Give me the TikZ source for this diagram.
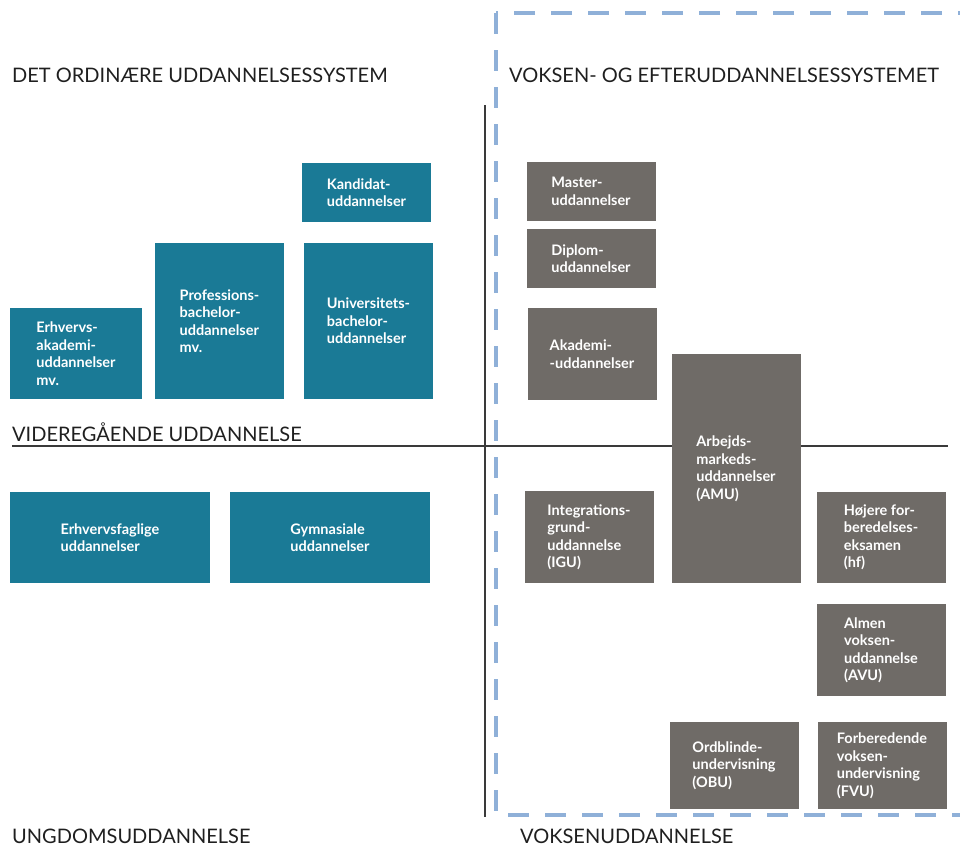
\documentclass[tikz,border=0pt]{standalone}
\usepackage{fontspec}
\setmainfont{Lato}
\usepackage{tikz}
\usetikzlibrary{positioning}
\definecolor{tealbg}{HTML}{1A7A96}
\definecolor{greybg}{HTML}{6F6B67}
\definecolor{dashblue}{HTML}{8FB0D8}
\definecolor{rulegrey}{HTML}{3A3A3A}
\tikzset{
  box/.style={minimum width=129pt, inner sep=0pt, text=white, align=left,
    font=\fontsize{14.5}{17.5}\selectfont\bfseries},
  tealbox/.style={box, fill=tealbg},
  greybox/.style={box, fill=greybg},
  heading/.style={anchor=west, inner sep=0pt, text=black!88,
    font=\fontsize{20}{23}\selectfont},
  rule/.style={line width=1.1pt, color=rulegrey},
  dashbox/.style={line width=4pt, color=dashblue, dash pattern=on 21pt off 16pt}
}

\begin{document}
\begin{tikzpicture}[x=1pt,y=-1pt]
		%%%%% START %%%%%
		\useasboundingbox (0,0) rectangle (960,847);
		
		\draw[dashbox] (496,13) rectangle (990,815);
		
		\draw[rule] (12,446) -- (948,446);
		\draw[rule] (485,105) -- (485,817);
		
		\node[heading] (ordin) at (12,75) {DET ORDINÆRE UDDANNELSESSYSTEM};
		\node[heading] (vokef) at (509,75) {VOKSEN- OG EFTERUDDANNELSESSYSTEMET};
		\node[heading] (vider) at (12,432) {VIDEREGÅENDE UDDANNELSE};
		\node[heading] (ungdom) at (12,836) {UNGDOMSUDDANNELSE};
		\node[heading] (voksen) at (520,836) {VOKSENUDDANNELSE};
		
		%% ordinaere system
		\node[tealbox, minimum width=132pt, minimum height=91pt] (erhak) at (76,353.5) {Erhvervs-\\akademi-\\uddannelser\\mv.};
		\node[tealbox, minimum height=156pt] (prof) at (219.5,321) {Professions-\\bachelor-\\uddannelser\\mv.};
		\node[tealbox, minimum height=156pt] (univ) at (368.5,321) {Universitets-\\bachelor-\\uddannelser};
		\node[tealbox, minimum height=59pt] (kand) at (366.5,192.5) {Kandidat-\\uddannelser};
		\node[tealbox, minimum width=200pt, minimum height=91pt] (erhfag) at (110,537.5) {Erhvervsfaglige\\uddannelser};
		\node[tealbox, minimum width=200pt, minimum height=91pt] (gym) at (330,537.5) {Gymnasiale\\uddannelser};
		
		%% voksen- og efteruddannelse
		\node[greybox, minimum height=59pt] (master) at (591,191.5) {Master-\\uddannelser};
		\node[greybox, minimum height=59pt] (diplom) at (591,258.5) {Diplom-\\uddannelser};
		\node[greybox, minimum height=92pt] (akad) at (592,354) {Akademi-\\-uddannelser};
		\node[greybox, minimum height=229pt] (amu) at (736,468.5) {Arbejds-\\markeds-\\uddannelser\\(AMU)};
		\node[greybox, minimum height=92pt] (igu) at (589,537) {Integrations-\\grund-\\uddannelse\\(IGU)};
		\node[greybox, minimum height=91pt] (hf) at (881,537.5) {Højere for-\\beredelses-\\eksamen\\(hf)};
		\node[greybox, minimum height=92pt] (avu) at (881,650) {Almen\\voksen-\\uddannelse\\(AVU)};
		\node[greybox, minimum height=87pt] (obu) at (734,765.5) {Ordblinde-\\undervisning\\(OBU)};
		\node[greybox, minimum height=87pt] (fvu) at (882,765.5) {Forberedende\\voksen-\\undervisning\\(FVU)};
		
		%%%%% END %%%%%
\end{tikzpicture}
\end{document}
